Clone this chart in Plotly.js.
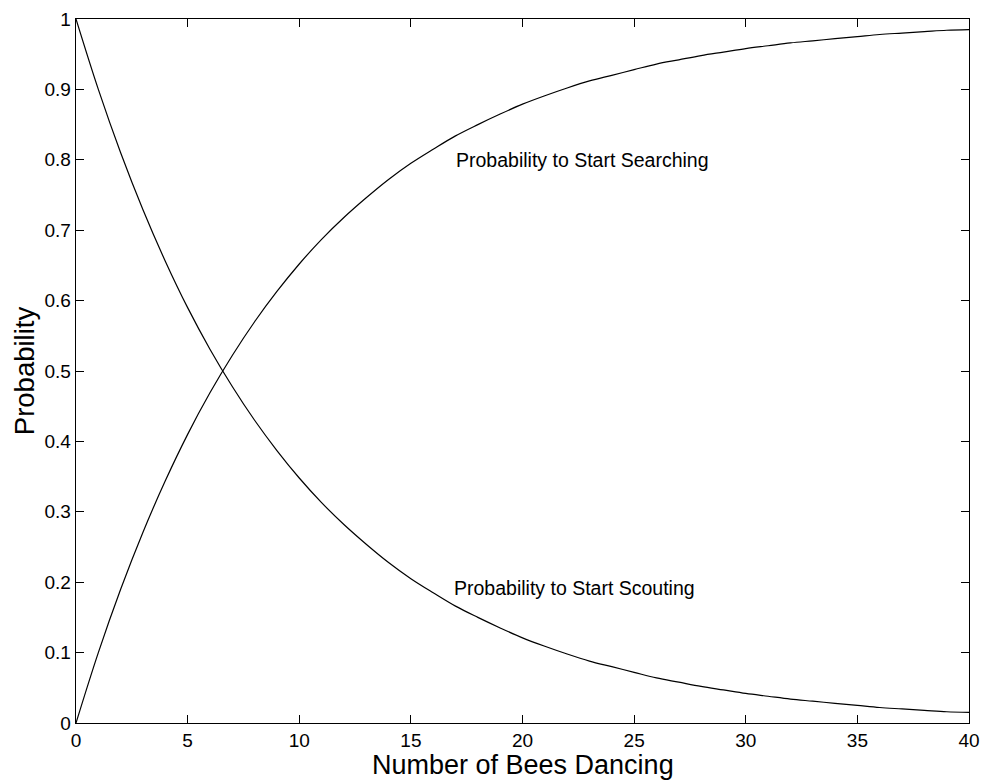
<!DOCTYPE html>
<html>
<head>
<meta charset="utf-8">
<script src="https://cdn.plot.ly/plotly-3.0.1.min.js"></script>
<style>html,body{margin:0;padding:0;background:#fff;}#chart{width:993px;height:780px;}</style>
</head>
<body>
<div id="chart"></div>
<script>
const beesDancing = [0,1,2,3,4,5,6,7,8,9,10,11,12,13,14,15,16,17,18,19,20,21,22,23,24,25,26,27,28,29,30,31,32,33,34,35,36,37,38,39,40];
const probScouting = [1.000,0.900,0.810,0.729,0.656,0.590,0.531,0.478,0.430,0.387,0.348,0.313,0.282,0.254,0.228,0.205,0.185,0.166,0.150,0.135,0.121,0.109,0.098,0.088,0.080,0.072,0.064,0.058,0.052,0.047,0.042,0.038,0.034,0.031,0.028,0.025,0.022,0.020,0.018,0.016,0.015];
const probSearching = [0.000,0.100,0.190,0.271,0.344,0.410,0.469,0.522,0.570,0.613,0.652,0.687,0.718,0.746,0.772,0.795,0.815,0.834,0.850,0.865,0.879,0.891,0.902,0.912,0.920,0.928,0.936,0.942,0.948,0.953,0.958,0.962,0.966,0.969,0.972,0.975,0.978,0.980,0.982,0.984,0.985];
const labels = ["Probability to Start Searching","Probability to Start Scouting"];
const labelX = [16.95, 16.85];
const labelY = [0.8, 0.192];
const xTicks = [0,5,10,15,20,25,30,35,40];
const yTicks = [0,0.1,0.2,0.3,0.4,0.5,0.6,0.7,0.8,0.9,1];
const xTitle = 'Number of Bees Dancing';
const yTitle = 'Probability';

const font = "Liberation Sans, Arial, Helvetica, sans-serif";
const traces = [
  {x: beesDancing, y: probSearching, mode:'lines', line:{color:'#000', width:1.2, shape:'spline'}, hoverinfo:'skip'},
  {x: beesDancing, y: probScouting, mode:'lines', line:{color:'#000', width:1.2, shape:'spline'}, hoverinfo:'skip'}
];
const annotations = labels.map((t,i)=>({x:labelX[i], y:labelY[i], xref:'x', yref:'y', text:t, showarrow:false, xanchor:'left', yanchor:'middle', font:{size:19.5, family:font, color:'#000'}}));
annotations.push({x:0.5, y:0, xref:'paper', yref:'paper', text:xTitle, showarrow:false, xanchor:'center', yanchor:'top', yshift:-26, borderpad:0, font:{size:27, family:font, color:'#000'}});
const layout = {
  width:993, height:780,
  margin:{l:76, r:24, t:19, b:57},
  paper_bgcolor:'#fff', plot_bgcolor:'#fff',
  showlegend:false,
  font:{family:font, color:'#000', size:19},
  xaxis:{range:[0,40], tickvals:xTicks, ticktext:xTicks.map(String), ticks:'inside', ticklen:8, tickcolor:'#000', tickwidth:1,
         showline:true, linecolor:'#000', linewidth:1.3, mirror:'ticks', showgrid:false, zeroline:false,
         tickfont:{size:19, family:font}},
  yaxis:{range:[0,1], tickvals:yTicks, ticktext:yTicks.map(String), ticks:'inside', ticklen:8, tickcolor:'#000', tickwidth:1,
         showline:true, linecolor:'#000', linewidth:1.3, mirror:'ticks', showgrid:false, zeroline:false,
         tickfont:{size:19, family:font}, title:{text:yTitle, font:{size:27.5, family:font}, standoff:2}},
  annotations: annotations
};
Plotly.newPlot('chart', traces, layout, {displayModeBar:false, staticPlot:true});
</script>
</body>
</html>
